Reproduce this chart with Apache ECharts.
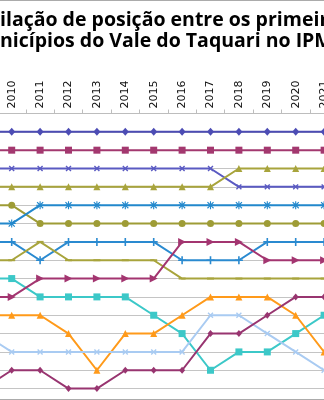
<!DOCTYPE html>
<html>
<head>
<meta charset="utf-8">
<script src="https://cdn.jsdelivr.net/npm/echarts@6/dist/echarts.min.js"></script>
<style>
  html, body { margin: 0; padding: 0; background: #fff; }
  #chart { width: 324px; height: 400px; }
</style>
</head>
<body>
<div id="chart"></div>
<script>
// Ranking years (columns of the bump chart)
const years = ['2009', '2010', '2011', '2012', '2013', '2014', '2015', '2016', '2017', '2018', '2019', '2020', '2021'];

// Position of each municipality in the ranking, year by year
const rankNavyDiamond   = [1, 1, 1, 1, 1, 1, 1, 1, 1, 1, 1, 1, 1];
const rankRoseSquare    = [2, 2, 2, 2, 2, 2, 2, 2, 2, 2, 2, 2, 2];
const rankIndigoCross   = [3, 3, 3, 3, 3, 3, 3, 3, 3, 4, 4, 4, 4];
const rankOliveTriangle = [4, 4, 4, 4, 4, 4, 4, 4, 4, 3, 3, 3, 3];
const rankOliveCircle   = [5, 5, 6, 6, 6, 6, 6, 6, 6, 6, 6, 6, 6];
const rankBlueStar      = [6, 6, 5, 5, 5, 5, 5, 5, 5, 5, 5, 5, 5];
const rankBluePlus      = [7, 7, 8, 7, 7, 7, 7, 8, 8, 8, 7, 7, 7];
const rankOliveDash     = [8, 8, 7, 8, 8, 8, 8, 9, 9, 9, 9, 9, 9];
const rankCyanSquare    = [9, 9, 10, 10, 10, 10, 11, 12, 14, 13, 13, 12, 11];
const rankPlumArrow     = [10, 10, 9, 9, 9, 9, 9, 7, 7, 7, 8, 8, 8];
const rankOrangeTri     = [11, 11, 11, 12, 14, 12, 12, 11, 10, 10, 10, 11, 13];
const rankSkyCross      = [12, 13, 13, 13, 13, 13, 13, 13, 11, 11, 12, 13, 14];
const rankPlumDiamond   = [15, 14, 14, 15, 15, 14, 14, 14, 12, 12, 11, 10, 10];

const titleLine1 = 'Oscilação de posição entre os primeiros';
const titleLine2 = 'municípios do Vale do Taquari no IPM';

// Marker shapes that ECharts does not ship
const PLUS = 'path://M4,0H6V4H10V6H6V10H4V6H0V4H4Z';
const STAR = 'path://M4.3,0H5.7V3.3L8.3,0.7L9.3,1.7L6.7,4.3H10V5.7H6.7L9.3,8.3L8.3,9.3L5.7,6.7V10H4.3V6.7L1.7,9.3L0.7,8.3L3.3,5.7H0V4.3H3.3L0.7,1.7L1.7,0.7L4.3,3.3Z';
const DASH = 'path://M0,0H10V3H0Z';

function line(data, color, symbol, size, rotate) {
  return {
    type: 'line',
    data: data,
    symbol: symbol,
    symbolSize: size,
    symbolRotate: rotate || 0,
    showAllSymbol: true,
    lineStyle: { color: color, width: 2 },
    itemStyle: { color: color, borderWidth: 0 },
    emphasis: { disabled: true },
    z: 3
  };
}

const titleFont = 'bold 19.5px "Open Sans"';
function textWidth(s) {
  const ctx = document.createElement('canvas').getContext('2d');
  ctx.font = titleFont;
  return ctx.measureText(s).width;
}

const chart = echarts.init(document.getElementById('chart'), null, { renderer: 'canvas' });
chart.setOption({
  animation: false,
  backgroundColor: '#ffffff',
  grid: {
    left: -30.9, top: 113.5, width: 369.2, height: 16 * 18.34,
    containLabel: false, outerBoundsMode: 'none'
  },
  xAxis: {
    type: 'category',
    position: 'top',
    data: years,
    boundaryGap: true,
    axisLine: { lineStyle: { color: '#BDBDBD', width: 1 } },
    axisTick: { show: true, length: 4, lineStyle: { color: '#BDBDBD' } },
    axisLabel: { rotate: 90, interval: 0, margin: 5, fontFamily: 'DejaVu Sans', fontSize: 11, color: '#111' }
  },
  yAxis: {
    type: 'value',
    inverse: true,
    min: 0,
    max: 16,
    interval: 1,
    axisLabel: { show: false },
    axisLine: { show: false },
    axisTick: { show: false },
    splitLine: { lineStyle: { color: '#C4C4C4', width: 1 } }
  },
  series: [
    line(rankNavyDiamond, '#4C4CB4', 'diamond', [7, 8]),
    line(rankRoseSquare, '#A3386F', 'rect', 7),
    line(rankIndigoCross, '#5A5AC2', PLUS, 7, 45),
    line(rankOliveTriangle, '#A8A43C', 'triangle', 7),
    line(rankOliveCircle, '#9E9C36', 'circle', 7),
    line(rankBlueStar, '#2288CC', STAR, 8),
    line(rankBluePlus, '#2A8AD0', PLUS, 8),
    line(rankOliveDash, '#A8A43C', DASH, [7, 2]),
    line(rankCyanSquare, '#3CC8C8', 'rect', 7),
    line(rankPlumArrow, '#A33570', 'triangle', 8, -90),
    line(rankOrangeTri, '#FF9A1A', 'triangle', 7),
    line(rankSkyCross, '#A9CBF2', PLUS, 7, 45),
    line(rankPlumDiamond, '#983570', 'diamond', [6, 7])
  ],
  graphic: [
    {
      type: 'rect',
      silent: true,
      shape: { x: -5, y: 0.5, width: 334, height: 399 },
      style: { fill: 'none', stroke: '#ABABAB', lineWidth: 1 },
      z: 0
    },
    {
      type: 'text',
      silent: true,
      style: {
        text: titleLine1, font: titleFont, fill: '#000',
        x: -textWidth('Osc'), y: 20, textAlign: 'left', textVerticalAlign: 'middle'
      }
    },
    {
      type: 'text',
      silent: true,
      style: {
        text: titleLine2, font: titleFont, fill: '#000',
        x: -textWidth('mu'), y: 41, textAlign: 'left', textVerticalAlign: 'middle'
      }
    }
  ]
});
</script>
</body>
</html>
